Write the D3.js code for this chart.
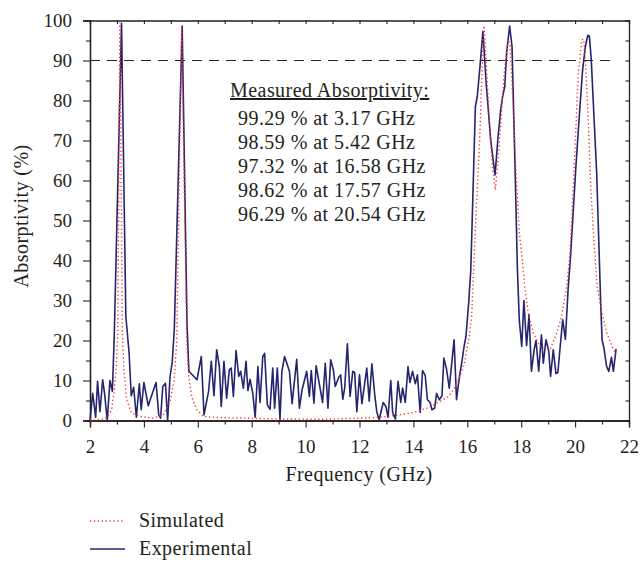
<!DOCTYPE html>
<html>
<head>
<meta charset="utf-8">
<script src="https://cdn.jsdelivr.net/npm/d3@7"></script>
<style>
  body { margin: 0; background: #fff; }
  text { font-family: "Liberation Serif", "Times New Roman", serif; fill: #231f20; }
  .rotulo { font-size: 20px; letter-spacing: 0.45px; }
</style>
</head>
<body>
<div id="chart"></div>
<script>
// Datos
const expFreq = [2.00, 2.10, 2.21, 2.28, 2.37, 2.47, 2.54, 2.64, 2.74, 2.83, 2.90, 3.17, 3.33, 3.45, 3.53, 3.62, 3.72, 3.83, 3.90, 4.00,
  4.16, 4.45, 4.55, 4.62, 4.70, 4.80, 4.88, 4.97, 5.05, 5.13, 5.42, 5.60, 5.67, 5.97, 6.13, 6.23, 6.40, 6.50, 6.60, 6.70,
  6.80, 6.87, 6.97, 7.07, 7.17, 7.24, 7.32, 7.42, 7.52, 7.59, 7.69, 7.79, 7.86, 7.94, 8.04, 8.13, 8.23, 8.31, 8.41, 8.48,
  8.58, 8.68, 8.78, 8.85, 8.95, 9.05, 9.12, 9.22, 9.40, 9.50, 9.67, 9.77, 9.87, 10.04, 10.14, 10.21, 10.31, 10.39, 10.63, 10.73,
  10.83, 10.93, 11.03, 11.10, 11.23, 11.30, 11.38, 11.45, 11.55, 11.65, 11.75, 11.82, 11.90, 12.00, 12.09, 12.27, 12.36, 12.46, 12.56, 12.64,
  12.73, 12.88, 12.98, 13.06, 13.16, 13.23, 13.33, 13.43, 13.53, 13.60, 13.70, 13.80, 13.87, 13.97, 14.07, 14.15, 14.25, 14.34, 14.44, 14.52,
  14.62, 14.69, 14.79, 14.86, 14.96, 15.06, 15.13, 15.23, 15.33, 15.51, 15.60, 15.70, 15.79, 15.88, 15.95, 16.05, 16.13, 16.30, 16.37, 16.47,
  16.58, 16.70, 16.87, 17.03, 17.13, 17.24, 17.31, 17.39, 17.46, 17.57, 17.66, 17.71, 17.77, 17.86, 17.93, 18.02, 18.10, 18.20, 18.29, 18.38,
  18.48, 18.55, 18.65, 18.75, 18.82, 18.92, 19.02, 19.09, 19.19, 19.29, 19.36, 19.44, 19.54, 19.64, 19.74, 19.83, 20.03, 20.18, 20.28, 20.38,
  20.47, 20.53, 20.60, 20.70, 20.80, 20.95, 21.00, 21.07, 21.17, 21.25, 21.35, 21.42, 21.52];
const expAbs = [0, 6.8, 0.8, 9.8, 2.2, 10.2, 6.8, 0, 10, 7.3, 21, 99.29, 26, 17, 6.2, 8.3, 0.8, 9.2, 2.7, 9.5,
  3.7, 9.5, 1.4, 0.6, 8.5, 9.3, 0, 11, 14.5, 23, 98.59, 24, 12.3, 10.2, 16, 1.4, 7.3, 14.8, 6.2, 17.7,
  13.5, 3.5, 14.8, 5.6, 12.7, 13.1, 6, 17.5, 11, 12.3, 8.1, 14.8, 7.5, 10.3, 6.8, 0.8, 13.5, 4.5, 16, 16.8,
  3.9, 2.8, 13.1, 3.1, 13.1, 0.2, 12.3, 16, 12.3, 4.2, 15.3, 3.1, 7.7, 12.3, 6, 12.5, 4.3, 13.7, 4.5, 14.3,
  3.1, 15.2, 12.7, 8.5, 10.8, 11.4, 5.3, 8.1, 19.2, 6, 12.3, 12, 2.2, 11.4, 4.2, 13.1, 4.8, 14.2, 6.8, 2.2,
  0.2, 4.5, 3.5, 0.8, 10, 2, 0.4, 9.8, 4.5, 8.1, 4.5, 13.5, 9.5, 12.3, 9.2, 11.4, 2, 12.5, 11.2, 5.2,
  4.5, 2.7, 3.1, 6.8, 5.2, 6.2, 15.6, 12.8, 8.1, 20.2, 5.2, 10.6, 14.3, 18.5, 21, 29.3, 37.7, 78.5, 81, 88.5,
  97.32, 84.3, 70, 61.4, 70, 77.7, 81, 83.5, 92, 98.62, 93.5, 80, 63.6, 37.7, 25, 18.5, 30, 18.7, 26.4, 12.3,
  17.7, 20, 12.3, 21.4, 14.3, 20.2, 17.5, 11, 17.7, 11.7, 12, 18, 25.2, 20.3, 32.7, 41, 63.5, 78.5, 87.7, 93.5,
  96.29, 96.1, 90.2, 76, 62, 29.3, 20.2, 18.1, 13.5, 12.3, 15.8, 12.3, 17.9];

const simFreq = [2.00, 2.30, 2.50, 2.64, 2.80, 2.90, 2.97, 3.03, 3.11, 3.20, 3.26, 3.36, 3.55, 3.86, 4.35, 4.72, 4.97, 5.12, 5.22, 5.40,
  5.59, 5.66, 5.77, 5.96, 6.21, 6.90, 7.70, 8.90, 10.50, 11.20, 12.00, 12.50, 13.00, 13.50, 14.00, 14.50, 15.00, 15.30, 15.50, 15.70,
  15.90, 16.07, 16.16, 16.32, 16.47, 16.55, 16.62, 16.71, 16.83, 16.93, 17.04, 17.14, 17.26, 17.38, 17.51, 17.59, 17.66, 17.80, 17.93, 18.05,
  18.14, 18.26, 18.45, 18.70, 19.07, 19.32, 19.50, 19.69, 19.81, 19.88, 20.00, 20.12, 20.25, 20.32, 20.40, 20.49, 20.58, 20.68, 20.82, 20.99,
  21.17, 21.42, 21.52];
const simAbs = [0.1, 0.2, 0.4, 0.8, 2.7, 7.7, 13, 22, 99.5, 22, 12.7, 5.2, 1.8, 1, 0.6, 1.4, 4.7, 10, 20, 98.7,
  20, 11, 6, 2.7, 1, 0.7, 0.6, 0.4, 0.3, 0.4, 0.6, 0.7, 1.0, 1.4, 2.0, 3.1, 4.8, 6, 7.8, 10.5,
  14.5, 21, 26, 51, 72, 88.5, 98.7, 88.5, 73.5, 63.5, 57.7, 65, 76, 87.7, 95.2, 94, 84.3, 63.5, 47, 39.4,
  32.7, 26.9, 21.9, 18.5, 17.7, 21.9, 26, 33.5, 42, 51, 68.5, 86.8, 95.2, 95.3, 87.7, 75, 58.5, 47, 33.5, 27,
  22, 17.7, 16.5];

const xTicks = [2, 4, 6, 8, 10, 12, 14, 16, 18, 20, 22];
const yTicks = [0, 10, 20, 30, 40, 50, 60, 70, 80, 90, 100];
const peakAbs = [99.29, 98.59, 97.32, 98.62, 96.29];
const peakFreq = [3.17, 5.42, 16.58, 17.57, 20.54];
const umbral = 90;

const ancho = 640, alto = 561;
const azul = "#25246f", rojo = "#ff3333", ejes = "#231f20";

const x = d3.scaleLinear().domain([2, 22]).range([90, 629]);
const y = d3.scaleLinear().domain([0, 100]).range([420.5, 20.5]);

const $svg = d3.select("#chart").append("svg")
  .attr("width", ancho)
  .attr("height", alto);

// ejes con marcas mayores y menores
const estiloEje = g => {
  g.select(".domain").attr("stroke", ejes).attr("stroke-width", 1.3);
  g.selectAll(".tick line").attr("stroke", ejes).attr("stroke-width", 1.1);
  g.selectAll(".tick text").attr("font-size", 19).attr("fill", ejes)
    .attr("font-family", "Liberation Serif, serif");
};

$svg.append("g").attr("transform", `translate(0,${y(0)})`)
  .call(d3.axisBottom(x).tickValues(d3.range(3, 22, 2)).tickSize(4).tickFormat(""))
  .call(estiloEje);
$svg.append("g").attr("transform", `translate(0,${y(0)})`)
  .call(d3.axisBottom(x).tickValues(xTicks).tickSize(7).tickPadding(12).tickFormat(d3.format("d")))
  .call(estiloEje);

$svg.append("g").attr("transform", `translate(${x(2)},0)`)
  .call(d3.axisLeft(y).tickValues(d3.range(5, 100, 10)).tickSize(4).tickFormat(""))
  .call(estiloEje);
$svg.append("g").attr("transform", `translate(${x(2)},0)`)
  .call(d3.axisLeft(y).tickValues(yTicks).tickSize(7).tickPadding(11).tickFormat(d3.format("d")))
  .call(estiloEje);

// marco superior y derecho con marcas hacia dentro
$svg.append("g").attr("transform", `translate(0,${y(100)})`)
  .call(d3.axisTop(x).tickValues(d3.range(3, 22, 1)).tickSize(-3.5).tickFormat(""))
  .call(estiloEje);
$svg.append("g").attr("transform", `translate(${x(22)},0)`)
  .call(d3.axisRight(y).tickValues(d3.range(5, 100, 5)).tickSize(-3.5).tickFormat(""))
  .call(estiloEje);

// linea de 90 %
$svg.append("line")
  .attr("x1", x(2)).attr("x2", x(21.5))
  .attr("y1", y(umbral)).attr("y2", y(umbral))
  .attr("stroke", "#222").attr("stroke-width", 1.2)
  .attr("stroke-dasharray", "10,7");

const linea = d3.line().x(d => x(d[0])).y(d => y(d[1]));
const simulado = simFreq.map((f, i) => [f, simAbs[i]]);
const experimental = expFreq.map((f, i) => [f, expAbs[i]]);

$svg.append("path")
  .datum(experimental)
  .attr("d", linea)
  .attr("fill", "none")
  .attr("stroke", azul)
  .attr("stroke-width", 1.6)
  .attr("stroke-linejoin", "round");

$svg.append("path")
  .datum(simulado)
  .attr("d", linea)
  .attr("fill", "none")
  .attr("stroke", rojo)
  .attr("stroke-width", 1.4)
  .attr("stroke-dasharray", "1.3,2.6");

// titulos de los ejes
$svg.append("text")
  .attr("class", "rotulo")
  .attr("x", 359).attr("y", 481)
  .attr("text-anchor", "middle")
  .text("Frequency (GHz)");

$svg.append("text")
  .attr("class", "rotulo")
  .attr("transform", "translate(28,216) rotate(-90)")
  .attr("text-anchor", "middle")
  .text("Absorptivity (%)");

// anotacion
$svg.append("text")
  .attr("class", "rotulo")
  .attr("x", 230).attr("y", 97)
  .style("text-decoration", "underline")
  .text("Measured Absorptivity:");

$svg.selectAll(".pico")
  .data(peakAbs)
  .enter().append("text")
  .attr("class", "pico rotulo")
  .attr("x", 238)
  .attr("y", (d, i) => 125 + i * 24)
  .text((d, i) => `${d.toFixed(2)} % at ${peakFreq[i].toFixed(2)} GHz`);

// leyenda
const leyenda = [
  { nombre: "Simulated", color: rojo, guion: "1.3,2.6", yy: 521 },
  { nombre: "Experimental", color: azul, guion: null, yy: 549 }
];
leyenda.forEach(l => {
  $svg.append("line")
    .attr("x1", 90).attr("x2", 125)
    .attr("y1", l.yy).attr("y2", l.yy)
    .attr("stroke", l.color)
    .attr("stroke-width", 1.4)
    .attr("stroke-dasharray", l.guion);
  $svg.append("text")
    .attr("class", "rotulo")
    .attr("x", 139).attr("y", l.yy + 6)
    .text(l.nombre);
});
</script>
</body>
</html>
